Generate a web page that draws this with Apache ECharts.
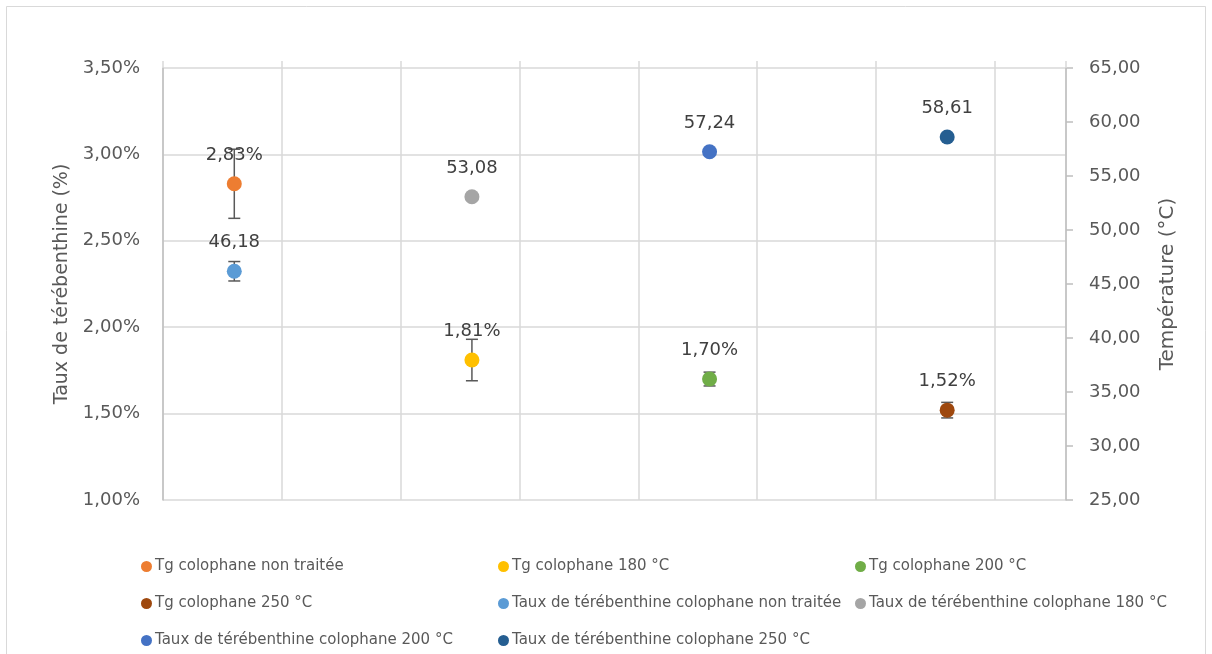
<!DOCTYPE html>
<html>
<head>
<meta charset="utf-8">
<script src="https://cdn.jsdelivr.net/npm/echarts@6/dist/echarts.min.js"></script>
<style>
html,body{margin:0;padding:0;background:#fff;}
#chart{width:1212px;height:654px;}
</style>
</head>
<body>
<div id="chart"></div>
<script>
// ---- data ----
const xPositions = [0.6, 2.6, 4.6, 6.6];
const tgNames = ['Tg colophane non traitée', 'Tg colophane 180 °C', 'Tg colophane 200 °C', 'Tg colophane 250 °C'];
const tgValues = [2.83, 1.81, 1.70, 1.52];
const tgErrors = [0.20, 0.12, 0.04, 0.045];
const tauxNames = ['Taux de térébenthine colophane non traitée', 'Taux de térébenthine colophane 180 °C', 'Taux de térébenthine colophane 200 °C', 'Taux de térébenthine colophane 250 °C'];
const tauxValues = [46.18, 53.08, 57.24, 58.61];
const tauxErrors = [0.9, 0, 0, 0];
const tgColors = ['#ED7D31', '#FFC000', '#70AD47', '#9E480E'];
const tauxColors = ['#5B9BD5', '#A5A5A5', '#4472C4', '#255E91'];
const leftTicks = { min: 1, max: 3.5, interval: 0.5 };
const rightTicks = { min: 25, max: 65, interval: 5 };
// legend order (row by row, 3 columns)
const legendOrder = [tgNames[0], tgNames[1], tgNames[2], tgNames[3], tauxNames[0], tauxNames[1], tauxNames[2], tauxNames[3]];

const FONT = 'DejaVu Sans';
const comma = (v, d) => v.toFixed(d).replace('.', ',');

function scatterSeries(name, x, y, color, yAxisIndex, fmt) {
  return {
    name: name, type: 'scatter', yAxisIndex: yAxisIndex,
    symbol: 'circle', symbolSize: 15, z: 5,
    itemStyle: { color: color, opacity: 1 },
    label: {
      show: true, position: 'top', distance: 12,
      formatter: p => fmt(p.value[1]),
      fontFamily: FONT, fontSize: 18, color: '#404040'
    },
    data: [[x, y]]
  };
}

function errorSeries(xs, ys, errs, yAxisIndex) {
  const data = [];
  for (let i = 0; i < xs.length; i++) {
    if (errs[i] > 0) data.push([xs[i], ys[i] - errs[i], ys[i] + errs[i]]);
  }
  return {
    type: 'custom', yAxisIndex: yAxisIndex, z: 3, silent: true,
    renderItem: function (params, api) {
      const lo = api.coord([api.value(0), api.value(1)]);
      const hi = api.coord([api.value(0), api.value(2)]);
      const w = 6;
      const st = { stroke: '#595959', lineWidth: 1.5 };
      return {
        type: 'group',
        children: [
          { type: 'line', shape: { x1: lo[0], y1: lo[1], x2: hi[0], y2: hi[1] }, style: st },
          { type: 'line', shape: { x1: lo[0] - w, y1: lo[1], x2: lo[0] + w, y2: lo[1] }, style: st },
          { type: 'line', shape: { x1: hi[0] - w, y1: hi[1], x2: hi[0] + w, y2: hi[1] }, style: st }
        ]
      };
    },
    encode: { x: 0, y: [1, 2] },
    data: data
  };
}

const series = [];
series.push(errorSeries(xPositions, tgValues, tgErrors, 0));
series.push(errorSeries(xPositions, tauxValues, tauxErrors, 1));
for (let i = 0; i < tgNames.length; i++) {
  series.push(scatterSeries(tgNames[i], xPositions[i], tgValues[i], tgColors[i], 0, v => comma(v, 2) + '%'));
}
for (let i = 0; i < tauxNames.length; i++) {
  series.push(scatterSeries(tauxNames[i], xPositions[i], tauxValues[i], tauxColors[i], 1, v => comma(v, 2)));
}

const colLefts = [141, 498, 855];
const rowTops = [559, 596, 633];
const legends = legendOrder.map((name, i) => ({
  data: [name],
  orient: 'horizontal',
  left: colLefts[i % 3], top: rowTops[Math.floor(i / 3)],
  icon: 'circle', itemWidth: 11, itemHeight: 11, padding: 0,
  selectedMode: false,
  textStyle: { fontFamily: FONT, fontSize: 15, color: '#595959', padding: [0, 0, 0, -2] }
}));

const option = {
  animation: false,
  backgroundColor: '#fff',
  textStyle: { fontFamily: FONT },
  graphic: [{
    type: 'rect', shape: { x: 6.5, y: 6.5, width: 1199, height: 660 },
    style: { fill: 'none', stroke: '#d9d9d9', lineWidth: 1 }, silent: true
  }],
  grid: { left: 163, right: 146, top: 68, bottom: 154, containLabel: false },
  legend: legends,
  xAxis: {
    type: 'value', position: 'top', min: 0, max: 7.6, interval: 1,
    axisLine: { show: false },
    axisTick: { show: true, length: 7, lineStyle: { color: '#d9d9d9', width: 1.5 } },
    axisLabel: { show: false },
    splitLine: { show: true, lineStyle: { color: '#d9d9d9', width: 1.5 } }
  },
  yAxis: [{
    type: 'value', position: 'left',
    min: leftTicks.min, max: leftTicks.max, interval: leftTicks.interval,
    name: 'Taux de térébenthine (%)', nameLocation: 'middle', nameGap: 91,
    nameTextStyle: { fontFamily: FONT, fontSize: 19, color: '#595959' },
    axisLine: { show: true, lineStyle: { color: '#bfbfbf', width: 1.5 } },
    axisTick: { show: false },
    axisLabel: { margin: 23, fontFamily: FONT, fontSize: 18, color: '#595959', formatter: v => comma(v, 2) + '%' },
    splitLine: { show: true, lineStyle: { color: '#d9d9d9', width: 1.5 } }
  }, {
    type: 'value', position: 'right',
    min: rightTicks.min, max: rightTicks.max, interval: rightTicks.interval,
    name: 'Température (°C)', nameLocation: 'middle', nameGap: 92,
    nameTextStyle: { fontFamily: FONT, fontSize: 20, color: '#595959' },
    axisLine: { show: true, lineStyle: { color: '#bfbfbf', width: 1.5 } },
    axisTick: { show: true, length: 7, lineStyle: { color: '#bfbfbf', width: 1.5 } },
    axisLabel: { margin: 23, fontFamily: FONT, fontSize: 18, color: '#595959', formatter: v => comma(v, 2) },
    splitLine: { show: false }
  }],
  series: series
};

const chart = echarts.init(document.getElementById('chart'), null, { renderer: 'canvas' });
chart.setOption(option);
</script>
</body>
</html>
